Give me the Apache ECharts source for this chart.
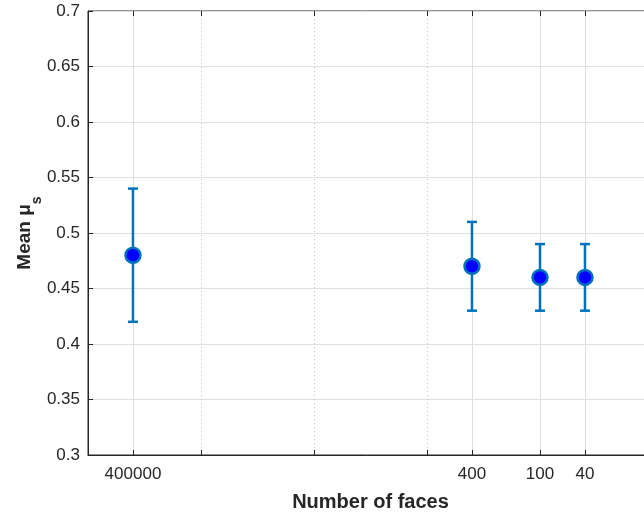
<!DOCTYPE html>
<html>
<head>
<meta charset="utf-8">
<script src="https://cdn.jsdelivr.net/npm/echarts@6/dist/echarts.min.js"></script>
<style>
  html, body { margin: 0; padding: 0; background: #fff; }
  #chart { width: 644px; height: 513px; }
</style>
</head>
<body>
<div id="chart"></div>
<script>
// Mesh resolution (number of faces) and the measured static friction coefficient
const faces = [400000, 400, 100, 40];
const meanMu = [0.48, 0.47, 0.46, 0.46];
const lowMu = [0.42, 0.43, 0.43, 0.43];
const highMu = [0.54, 0.51, 0.49, 0.49];

// Tick positions on the reversed log axis
const labelTicks = [400000, 400, 100, 40];
const decadeTicks = [100000, 10000, 1000];

const FONT = '"Liberation Sans", Arial, Helvetica, sans-serif';
const INK = '#262626';
const GRID = '#dfdfdf';
const BLUE = '#0072BD';

const pointData = faces.map((f, i) => [f, meanMu[i]]);
const barData = faces.map((f, i) => [f, lowMu[i], highMu[i]]);

const logAxisBase = {
  type: 'log',
  logBase: 10,
  inverse: true,
  min: 10,
  max: 1e6,
  gridIndex: 0
};

const chart = echarts.init(document.getElementById('chart'), null, { renderer: 'canvas' });

chart.setOption({
  animation: false,
  backgroundColor: '#ffffff',
  grid: {
    left: 88, top: 11, width: 565, height: 444,
    containLabel: false,
    outerBoundsMode: 'none',
    show: true, borderColor: INK, borderWidth: 1, backgroundColor: 'transparent'
  },
  xAxis: [
    Object.assign({}, logAxisBase, {
      position: 'bottom',
      name: 'Number of faces',
      nameLocation: 'middle',
      nameGap: 37,
      nameMoveOverlap: false,
      nameTextStyle: { fontFamily: FONT, fontSize: 20, fontWeight: 'bold', color: INK },
      axisLine: { show: true, lineStyle: { color: INK, width: 1 } },
      axisTick: { show: true, inside: true, length: 5, customValues: labelTicks, lineStyle: { color: INK } },
      axisLabel: {
        show: true, customValues: labelTicks, margin: 11,
        fontFamily: FONT, fontSize: 17, color: INK,
        formatter: v => String(Math.round(v))
      },
      splitLine: { show: true, lineStyle: { color: GRID, width: 1 } },
      minorTick: { show: false },
      minorSplitLine: { show: false }
    }),
    Object.assign({}, logAxisBase, {
      position: 'bottom',
      axisLine: { show: false },
      axisTick: { show: true, inside: true, length: 5, customValues: decadeTicks, lineStyle: { color: INK } },
      axisLabel: { show: false, customValues: decadeTicks },
      splitLine: { show: true, lineStyle: { color: '#c4c4c4', width: 1, type: [1, 3] } }
    }),
    Object.assign({}, logAxisBase, {
      position: 'top',
      axisLine: { show: false },
      axisTick: { show: true, inside: true, length: 5, customValues: labelTicks.concat(decadeTicks), lineStyle: { color: INK } },
      axisLabel: { show: false, customValues: labelTicks.concat(decadeTicks) },
      splitLine: { show: false }
    })
  ],
  yAxis: {
    type: 'value',
    min: 0.3,
    max: 0.7,
    interval: 0.05,
    name: '{m|Mean μ}{s|s}',
    nameLocation: 'middle',
    nameGap: 52,
    nameMoveOverlap: false,
    nameRotate: 90,
    nameTextStyle: {
      fontFamily: FONT, color: INK,
      rich: {
        m: { fontFamily: FONT, fontSize: 19, fontWeight: 'bold', color: INK, lineHeight: 23 },
        s: { fontFamily: FONT, fontSize: 14, fontWeight: 'bold', color: INK, verticalAlign: 'bottom', lineHeight: 23, padding: [0, 0, -8, 0] }
      }
    },
    axisLine: { show: true, lineStyle: { color: INK, width: 1 } },
    axisTick: { show: true, inside: true, length: 5, lineStyle: { color: INK } },
    axisLabel: {
      margin: 8, fontFamily: FONT, fontSize: 17, color: INK,
      formatter: v => String(+v.toFixed(2))
    },
    splitLine: { show: true, lineStyle: { color: GRID, width: 1 } }
  },
  series: [
    {
      type: 'custom',
      xAxisIndex: 0,
      data: barData,
      z: 3,
      renderItem: function (params, api) {
        const x = api.value(0);
        const lo = api.coord([x, api.value(1)]);
        const hi = api.coord([x, api.value(2)]);
        const cap = 5;
        const style = { stroke: BLUE, lineWidth: 2.5, fill: null };
        return {
          type: 'group',
          children: [
            { type: 'line', shape: { x1: lo[0], y1: lo[1], x2: hi[0], y2: hi[1] }, style: style },
            { type: 'line', shape: { x1: lo[0] - cap, y1: lo[1], x2: lo[0] + cap, y2: lo[1] }, style: style },
            { type: 'line', shape: { x1: hi[0] - cap, y1: hi[1], x2: hi[0] + cap, y2: hi[1] }, style: style }
          ]
        };
      }
    },
    {
      type: 'scatter',
      xAxisIndex: 0,
      data: pointData,
      z: 4,
      symbol: 'circle',
      symbolSize: 15,
      itemStyle: { color: '#0000FF', borderColor: BLUE, borderWidth: 2.5, opacity: 1 }
    }
  ]
});
</script>
</body>
</html>
